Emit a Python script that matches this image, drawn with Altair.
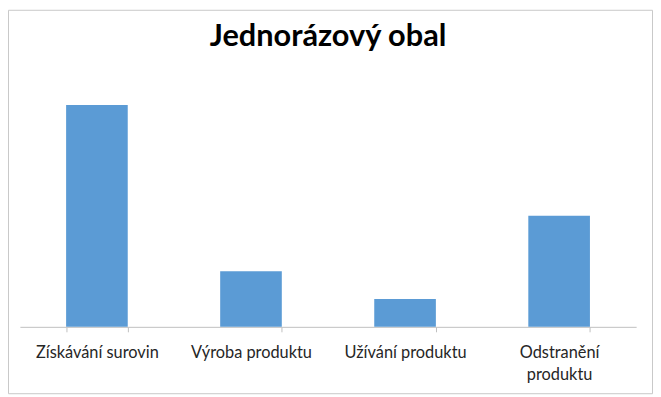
import altair as alt
import pandas as pd

categories = ["Získávání surovin", "Výroba produktu", "Užívání produktu", "Odstranění produktu"]
values = [8, 2, 1, 4]
title_text = ["Jednorázový obal"]

df = pd.DataFrame({"kategorie": categories, "hodnota": values})

PLOT_W, PLOT_H = 622, 252
PAD = {"left": 12, "top": 68, "right": 17, "bottom": 68}

bars = alt.Chart(df).mark_bar(color="#5B9BD5").encode(
    x=alt.X(
        "kategorie:N",
        sort=categories,
        title=None,
        scale=alt.Scale(paddingInner=0.6, paddingOuter=0.3),
        axis=alt.Axis(
            labelAngle=0,
            tickBand="extent",
            domainColor="#BFBFBF",
            tickColor="#BFBFBF",
            tickSize=5,
            labelFont="Lato",
            labelFontSize=16.5,
            labelColor="#262626",
            labelPadding=13,
            labelLineHeight=22,
            labelExpr="datum.label == 'Odstranění produktu' ? ['Odstranění', 'produktu'] : datum.label",
        ),
    ),
    y=alt.Y("hodnota:Q", scale=alt.Scale(domain=[0, 9]), axis=None),
)

title = alt.Chart(pd.DataFrame({"t": title_text})).mark_text(
    font="Lato",
    fontSize=31,
    fontWeight="bold",
    color="#000000",
    align="center",
    baseline="alphabetic",
).encode(
    text="t:N",
    x=alt.value(311),
    y=alt.value(-31),
)

border = alt.Chart(pd.DataFrame({"a": [0]})).mark_rect(
    fill="transparent", stroke="#C8C8C8", strokeWidth=1
).encode(
    x=alt.value(-PAD["left"] + 0.5),
    x2=alt.value(PLOT_W + PAD["right"] - 0.5),
    y=alt.value(-PAD["top"] + 0.5),
    y2=alt.value(PLOT_H + PAD["bottom"] - 0.5),
)

chart = alt.layer(bars, title, border).properties(
    width=PLOT_W,
    height=PLOT_H,
    padding=PAD,
    autosize=alt.AutoSizeParams(type="none"),
).configure_view(stroke=None)

chart.save("out.html", embed_options={"renderer": "svg", "actions": False})
